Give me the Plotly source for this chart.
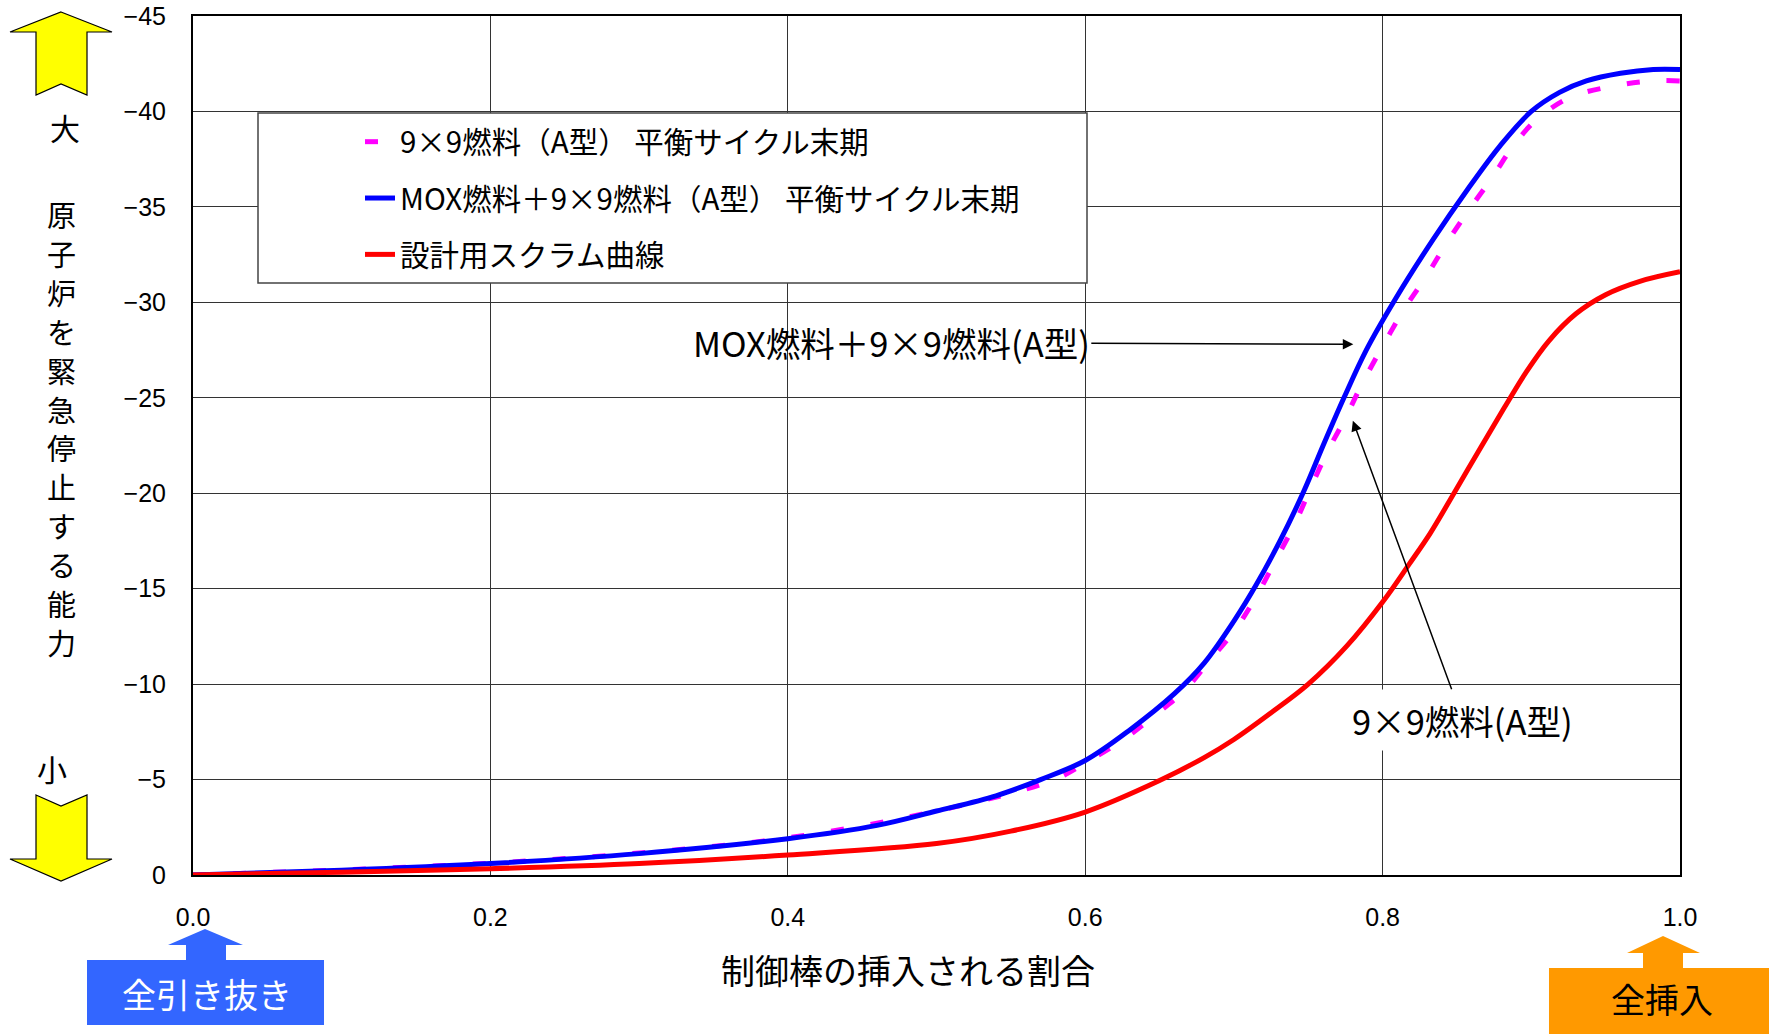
import plotly.graph_objects as go

# 制御棒挿入割合に対するスクラム反応度曲線
X_A = [0, 0.1, 0.2, 0.3, 0.4, 0.5, 0.5786, 0.6032, 0.6268, 0.647, 0.6671, 0.6839,
       0.7015, 0.7165, 0.7288, 0.741, 0.7512, 0.7624, 0.7747, 0.786, 0.8, 0.815,
       0.8297, 0.843, 0.8577, 0.8733, 0.888, 0.9025, 0.925, 0.953, 0.981, 1.0]
Y_A = [0, -0.27, -0.62, -1.15, -1.95, -3.35, -4.98, -6.02, -7.16, -8.38, -9.69, -11.26,
       -12.92, -14.8, -16.6, -18.4, -20.2, -22.1, -23.9, -25.7, -27.7, -29.7,
       -31.4, -33.1, -34.8, -36.5, -38.2, -39.5, -40.7, -41.3, -41.6, -41.6]

X_MOX = [0, 0.1, 0.2, 0.3, 0.4, 0.46, 0.5, 0.54, 0.57, 0.6, 0.63, 0.66, 0.68, 0.7,
         0.715, 0.731, 0.747, 0.76, 0.774, 0.789, 0.808, 0.834, 0.857, 0.879, 0.9,
         0.919, 0.937, 0.96, 0.982, 1.0]
Y_MOX = [0, -0.25, -0.6, -1.12, -1.9, -2.6, -3.35, -4.15, -5.0, -6.0, -7.6, -9.5, -11.1,
         -13.3, -15.2, -17.5, -20.1, -22.5, -25.0, -27.5, -30.1, -33.3, -35.9, -38.2,
         -40.0, -41.0, -41.6, -42.0, -42.2, -42.2]

X_DESIGN = [0, 0.1, 0.2, 0.3, 0.4, 0.5, 0.55, 0.6, 0.65, 0.68, 0.7, 0.725, 0.75, 0.776,
            0.8, 0.818, 0.832, 0.848, 0.866, 0.882, 0.897, 0.912, 0.93, 0.95, 0.973, 1.0]
Y_DESIGN = [0, -0.15, -0.33, -0.6, -1.05, -1.65, -2.3, -3.3, -4.95, -6.15, -7.1, -8.5, -10.0,
            -12.0, -14.3, -16.3, -17.9, -20.0, -22.4, -24.5, -26.4, -28.0, -29.4, -30.4,
            -31.1, -31.6]

NAMES = ["9×9燃料（A型） 平衡サイクル末期",
         "MOX燃料＋9×9燃料（A型） 平衡サイクル末期",
         "設計用スクラム曲線"]

Y_LABEL = "原子炉を緊急停止する能力"
X_LABEL = "制御棒の挿入される割合"

JP = "Noto Sans CJK JP"
W, H = 1769, 1034
L, R, T, B = 193, 1680, 16, 875   # plot area in page pixels


def px(x, y):
    # page pixel -> paper coords
    return (x - L) / (R - L), (B - y) / (B - T)


def path(points):
    pts = [px(x, y) for x, y in points]
    return "M " + " L ".join(f"{a:.5f},{b:.5f}" for a, b in pts) + " Z"


fig = go.Figure()
fig.add_trace(go.Scatter(x=X_A, y=Y_A, mode="lines", name=NAMES[0], legendgroup="a",
                         line=dict(color="#FF00FF", width=5, dash="13px,27px", shape="spline")))
fig.add_trace(go.Scatter(x=X_MOX, y=Y_MOX, mode="lines", name=NAMES[1], legendgroup="b",
                         line=dict(color="#0000FF", width=5, shape="spline")))
fig.add_trace(go.Scatter(x=X_DESIGN, y=Y_DESIGN, mode="lines", name=NAMES[2], legendgroup="c",
                         line=dict(color="#FF0000", width=5, shape="spline")))

shapes = []
# legend frame
x0, y0 = px(258, 283)
x1, y1 = px(1087, 113)
shapes.append(dict(type="rect", xref="paper", yref="paper", x0=x0, y0=y0, x1=x1, y1=y1,
                   fillcolor="white", line=dict(color="#444", width=1.5), layer="above"))
# yellow arrows
shapes.append(dict(type="path", xref="paper", yref="paper", fillcolor="#FFFF00",
                   line=dict(color="black", width=1.2),
                   path=path([(61, 12), (112, 32), (87, 32), (87, 95), (61, 84),
                              (36, 95), (36, 32), (10, 32)])))
shapes.append(dict(type="path", xref="paper", yref="paper", fillcolor="#FFFF00",
                   line=dict(color="black", width=1.2),
                   path=path([(36, 795), (61, 806), (87, 795), (87, 859), (112, 859),
                              (61, 881), (10, 859), (36, 859)])))
# blue box + arrow
shapes.append(dict(type="path", xref="paper", yref="paper", fillcolor="#3366FF",
                   line=dict(width=0),
                   path=path([(87, 960), (186, 960), (186, 945), (168, 945), (205, 929),
                              (243, 945), (226, 945), (226, 960), (324, 960), (324, 1025),
                              (87, 1025)])))
# orange box + arrow
shapes.append(dict(type="path", xref="paper", yref="paper", fillcolor="#FF9900",
                   line=dict(width=0),
                   path=path([(1549, 968), (1643, 968), (1643, 953), (1627, 953), (1663, 936),
                              (1700, 953), (1683, 953), (1683, 968), (1769, 968), (1769, 1034),
                              (1549, 1034)])))

annotations = []


def note(x, y, text, size, color="black", **kw):
    a, b = px(x, y)
    annotations.append(dict(xref="paper", yref="paper", x=a, y=b, text=text, showarrow=False,
                            xanchor="center", yanchor="middle",
                            font=dict(family=JP, size=size, color=color), **kw))


note(65, 127, "大", 30)
note(52, 768, "小", 30)
# vertical axis label, one character per line
for i, ch in enumerate(Y_LABEL):
    note(61, 214 + i * 38.9, ch, 29)
note(908, 970, X_LABEL, 34)
note(207, 993, "全引き抜き", 34, color="white")
note(1662, 998, "全挿入", 34)

annotations.append(dict(x=0.7803, y=-27.8, xref="x", yref="y", ax=-462, ay=-2,
                        text="MOX燃料＋9×9燃料(A型)", showarrow=True, arrowhead=2,
                        arrowsize=1.4, arrowwidth=1.5, arrowcolor="black",
                        font=dict(family=JP, size=34.5, color="black")))
annotations.append(dict(x=0.780, y=-23.8, xref="x", yref="y", ax=110, ay=299,
                        text="9×9燃料(A型)", showarrow=True, arrowhead=2,
                        arrowsize=1.4, arrowwidth=1.5, arrowcolor="black",
                        bgcolor="white", borderpad=5,
                        font=dict(family=JP, size=34.5, color="black")))

lx, ly = px(360, 116)
fig.update_layout(
    width=W, height=H, autosize=False,
    margin=dict(l=L, r=W - R, t=T, b=H - B),
    plot_bgcolor="white", paper_bgcolor="white",
    font=dict(family=JP, color="black"),
    shapes=shapes, annotations=annotations,
    legend=dict(x=lx, y=ly, xanchor="left", yanchor="top", bgcolor="rgba(0,0,0,0)",
                borderwidth=0, font=dict(family=JP, size=29.5), traceorder="grouped",
                tracegroupgap=15),
    xaxis=dict(range=[0, 1], dtick=0.2, tickformat=".1f", showgrid=True, automargin=False,
               gridcolor="#333", gridwidth=1, zeroline=False, showline=True, mirror=True,
               linecolor="black", linewidth=2, ticks="", ticklabelstandoff=19,
               ticklabeloverflow="allow",
               tickfont=dict(family="Liberation Sans", size=25)),
    yaxis=dict(range=[0, -45], dtick=5, showgrid=True, gridcolor="#333", gridwidth=1,
               automargin=False, ticklabeloverflow="allow",
               zeroline=False, showline=True, mirror=True, linecolor="black", linewidth=2,
               ticks="", ticklabelstandoff=20,
               tickfont=dict(family="Liberation Sans", size=25)),
)

# drop the default 8px body margin so the figure fills the window exactly
fig.write_html("out.html", config={"displayModeBar": False},
               post_script="document.body.style.margin='0';")
